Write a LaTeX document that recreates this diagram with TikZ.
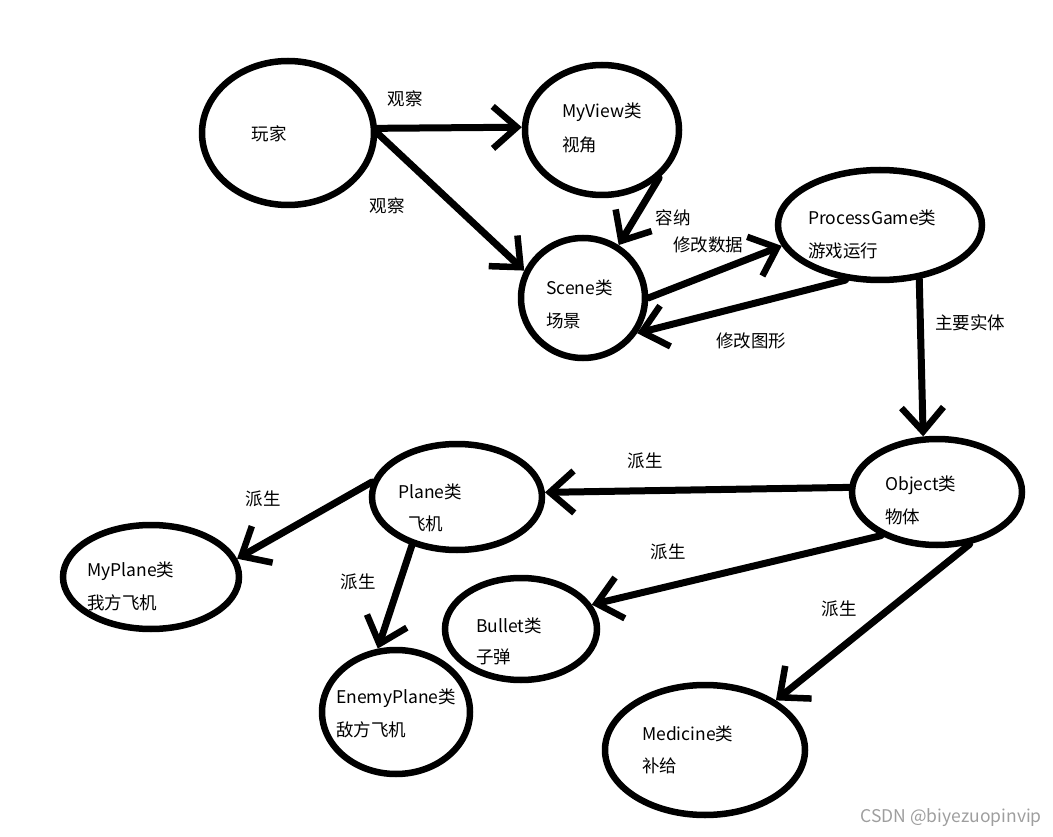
\documentclass[tikz,border=0pt]{standalone}
\usepackage{fontspec}
\setmainfont{Noto Sans CJK SC}
\usetikzlibrary{arrows.meta,shapes.geometric}
\tikzset{
  ell/.style={draw, ellipse, line width=6.5pt, inner sep=0pt},
  lbl/.style={anchor=west, inner sep=0pt, font=\fontsize{17.5}{20}\selectfont},
  clbl/.style={inner sep=0pt, font=\fontsize{17.5}{20}\selectfont},
  conn/.style={line width=7pt, line cap=round, -{Straight Barb[length=24pt, width=42pt, line width=6.5pt]}},
}
\begin{document}
\begin{tikzpicture}[x=1pt,y=-1pt]
\useasboundingbox (0,0) rectangle (1053,837);
% ellipses
\node[ell, minimum width=172pt, minimum height=144pt] (player) at (288,133) {};
\node[ell, minimum width=154pt, minimum height=130pt] (myview) at (602,130) {};
\node[ell, minimum width=124pt, minimum height=120pt] (scene) at (583,298) {};
\node[ell, minimum width=204pt, minimum height=110pt] (process) at (880,225) {};
\node[ell, minimum width=170pt, minimum height=106pt] (object) at (937,492) {};
\node[ell, minimum width=170pt, minimum height=106pt] (plane) at (457,497) {};
\node[ell, minimum width=176pt, minimum height=104pt] (myplane) at (151,577) {};
\node[ell, minimum width=152pt, minimum height=102pt] (bullet) at (521,629) {};
\node[ell, minimum width=148pt, minimum height=124pt] (enemy) at (396,712) {};
\node[ell, minimum width=200pt, minimum height=130pt] (medicine) at (705,750) {};
% node texts
\node[clbl] (tplayer) at (269,134) {玩家};
\node[lbl] (tmyview1) at (562,112) {MyView类};
\node[lbl] (tmyview2) at (562,145) {视角};
\node[lbl] (tscene1) at (546,288) {Scene类};
\node[lbl] (tscene2) at (546,321) {场景};
\node[lbl] (tproc1) at (808,218) {ProcessGame类};
\node[lbl] (tproc2) at (808,251) {游戏运行};
\node[lbl] (tobj1) at (885,485) {Object类};
\node[lbl] (tobj2) at (885,517) {物体};
\node[lbl] (tplane1) at (398,492) {Plane类};
\node[lbl] (tplane2) at (408,524) {飞机};
\node[lbl] (tmyplane1) at (87,571) {MyPlane类};
\node[lbl] (tmyplane2) at (87,603) {我方飞机};
\node[lbl] (tbullet1) at (476,626) {Bullet类};
\node[lbl] (tbullet2) at (476,657) {子弹};
\node[lbl] (tenemy1) at (336,698) {EnemyPlane类};
\node[lbl] (tenemy2) at (336,730) {敌方飞机};
\node[lbl] (tmed1) at (642,734) {Medicine类};
\node[lbl] (tmed2) at (642,766) {补给};
% connectors
\draw[conn] (player.3) -- (myview.178);
\draw[conn] (player.0) -- (scene.155);
\draw[conn] (myview.-40) -- (scene.56);
\draw[conn] (scene.0) -- (process.192);
\draw[conn] (process.238) -- (scene.-33);
\draw[conn] (process.-54) -- (object.104);
\draw[conn] (object.177) -- (plane.3);
\draw[conn] (plane.170) -- (myplane.12);
\draw[conn] (plane.227) -- (enemy.106);
\draw[conn] (object.218) -- (bullet.19);
\draw[conn] (object.-58) -- (medicine.35);
% connector labels
\node[clbl] (l1) at (405,99) {观察};
\node[clbl] (l2) at (387,206) {观察};
\node[clbl] (l3) at (673,218) {容纳};
\node[clbl] (l4) at (708,245) {修改数据};
\node[clbl] (l5) at (751,341) {修改图形};
\node[clbl] (l6) at (970,323) {主要实体};
\node[clbl] (l7) at (645,461) {派生};
\node[clbl] (l8) at (263,499) {派生};
\node[clbl] (l9) at (358,582) {派生};
\node[clbl] (l10) at (668,552) {派生};
\node[clbl] (l11) at (839,609) {派生};
% watermark
\node[inner sep=0pt, anchor=east, text=black!38, font=\fontsize{17.5}{19}\selectfont] (wm) at (1042,818) {CSDN @biyezuopinvip};
\end{tikzpicture}
\end{document}
